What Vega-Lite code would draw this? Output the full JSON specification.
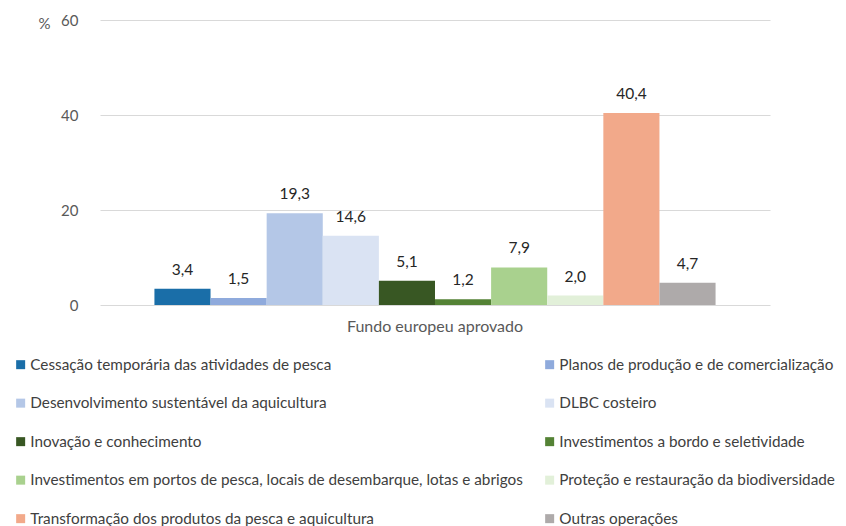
{
  "$schema": "https://vega.github.io/schema/vega-lite/v6.json",
  "autosize": "none",
  "width": 670,
  "height": 285,
  "padding": {"left": 100, "top": 20, "right": 76, "bottom": 221},
  "background": "white",
  "config": {
    "locale": {"number": {"decimal": ",", "thousands": ".", "grouping": [3], "currency": ["", " €"]}},
    "font": "Lato",
    "view": {"stroke": null},
    "axis": {"labelFont": "Lato", "titleFont": "Lato", "labelColor": "#595959", "titleColor": "#595959"}
  },
  "data": {
    "values": [
      {"grupo": "Fundo europeu aprovado", "tipo": "Cessação temporária das atividades de pesca", "valor": 3.4},
      {"grupo": "Fundo europeu aprovado", "tipo": "Planos de produção e de comercialização", "valor": 1.5},
      {"grupo": "Fundo europeu aprovado", "tipo": "Desenvolvimento sustentável da aquicultura", "valor": 19.3},
      {"grupo": "Fundo europeu aprovado", "tipo": "DLBC costeiro", "valor": 14.6},
      {"grupo": "Fundo europeu aprovado", "tipo": "Inovação e conhecimento", "valor": 5.1},
      {"grupo": "Fundo europeu aprovado", "tipo": "Investimentos a bordo e seletividade", "valor": 1.2},
      {"grupo": "Fundo europeu aprovado", "tipo": "Investimentos em portos de pesca, locais de desembarque, lotas e abrigos", "valor": 7.9},
      {"grupo": "Fundo europeu aprovado", "tipo": "Proteção e restauração da biodiversidade", "valor": 2.0},
      {"grupo": "Fundo europeu aprovado", "tipo": "Transformação dos produtos da pesca e aquicultura", "valor": 40.4},
      {"grupo": "Fundo europeu aprovado", "tipo": "Outras operações", "valor": 4.7}
    ]
  },
  "encoding": {
    "x": {
      "field": "grupo", "type": "nominal",
      "scale": {"paddingInner": 0, "paddingOuter": 0.097},
      "axis": {"title": null, "labelAngle": 0, "ticks": false, "domain": false, "labelFontSize": 16, "labelPadding": 13}
    },
    "xOffset": {
      "field": "tipo", "type": "nominal",
      "scale": {"paddingInner": 0, "paddingOuter": 0, "domain": [
        "Cessação temporária das atividades de pesca",
        "Planos de produção e de comercialização",
        "Desenvolvimento sustentável da aquicultura",
        "DLBC costeiro",
        "Inovação e conhecimento",
        "Investimentos a bordo e seletividade",
        "Investimentos em portos de pesca, locais de desembarque, lotas e abrigos",
        "Proteção e restauração da biodiversidade",
        "Transformação dos produtos da pesca e aquicultura",
        "Outras operações"
      ]}
    },
    "y": {
      "field": "valor", "type": "quantitative",
      "scale": {"domain": [0, 60], "nice": false},
      "axis": {
        "values": [0, 20, 40, 60], "format": "d", "ticks": false, "domain": false,
        "gridColor": "#d9d9d9", "gridWidth": 1, "labelFontSize": 15, "labelPadding": 22,
        "title": "%", "titleAngle": 0, "titleFontSize": 15, "titleFontWeight": "normal",
        "titleAlign": "right", "titleBaseline": "middle", "titleX": -50, "titleY": 3
      }
    }
  },
  "layer": [
    {
      "mark": {"type": "bar"},
      "encoding": {
        "color": {
          "field": "tipo", "type": "nominal",
          "scale": {
            "domain": [
              "Cessação temporária das atividades de pesca",
              "Planos de produção e de comercialização",
              "Desenvolvimento sustentável da aquicultura",
              "DLBC costeiro",
              "Inovação e conhecimento",
              "Investimentos a bordo e seletividade",
              "Investimentos em portos de pesca, locais de desembarque, lotas e abrigos",
              "Proteção e restauração da biodiversidade",
              "Transformação dos produtos da pesca e aquicultura",
              "Outras operações"
            ],
            "range": ["#1a6ea8", "#8faadc", "#b4c7e7", "#dae3f3", "#385723", "#548235", "#a9d18e", "#e2f0d9", "#f2a98a", "#aeaaaa"]
          },
          "legend": {
            "title": null, "orient": "none", "legendX": -87, "legendY": 337,
            "columns": 2, "direction": "horizontal", "symbolType": "square", "symbolSize": 81,
            "symbolStrokeWidth": 0, "labelFontSize": 15.3, "labelColor": "#404040", "labelFont": "Lato",
            "labelOffset": 2, "rowPadding": 22.5, "columnPadding": 19, "labelLimit": 600
          }
        }
      }
    },
    {
      "mark": {"type": "text", "baseline": "bottom", "dy": -11, "fontSize": 15.5, "color": "#262626", "font": "Lato"},
      "encoding": {
        "text": {"field": "valor", "type": "quantitative", "format": ".1f"}
      }
    }
  ]
}
